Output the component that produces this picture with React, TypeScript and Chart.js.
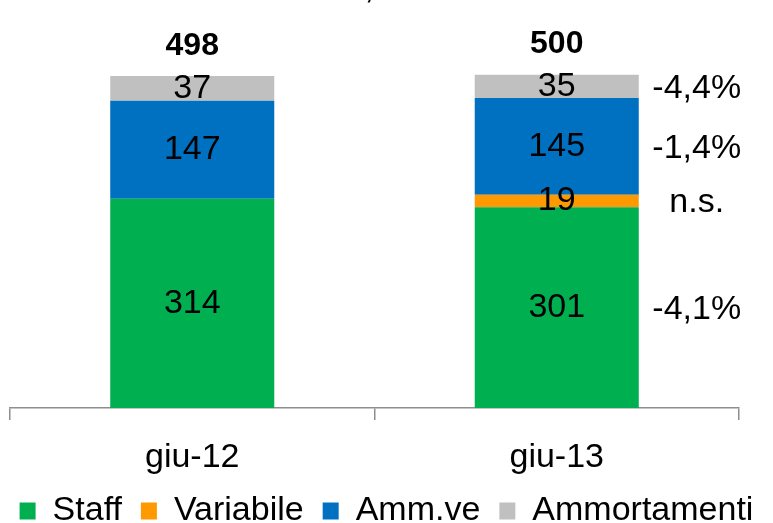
import React, { useEffect, useRef } from 'react';
import { Chart, registerables } from 'chart.js';

Chart.register(...registerables);

const categories = ['giu-12', 'giu-13'];
const staff = [314, 301];
const variabile = [0, 19];
const ammve = [147, 145];
const ammortamenti = [37, 35];
const totals = [498, 500];
const seriesNames = ['Staff', 'Variabile', 'Amm.ve', 'Ammortamenti'];
const seriesColors = ['#00B050', '#FF9900', '#0070C0', '#C0C0C0'];
const variations = ['-4,1%', 'n.s.', '-1,4%', '-4,4%'];
const totalVariation = '+0,4%';
const yMax = 600;

const FONT = "'Liberation Sans', Arial, sans-serif";
const FS = 34;

const labelsPlugin = {
  id: 'valueLabels',
  afterDatasetsDraw(chart: any) {
    const ctx = chart.ctx;
    ctx.save();
    ctx.fillStyle = '#000';
    ctx.textAlign = 'center';
    ctx.textBaseline = 'middle';
    ctx.font = `${FS}px ${FONT}`;
    chart.data.datasets.forEach((ds: any, di: number) => {
      const meta = chart.getDatasetMeta(di);
      meta.data.forEach((bar: any, i: number) => {
        const v = ds.data[i];
        if (!v) return;
        const { x, y, base } = bar.getProps(['x', 'y', 'base'], true);
        ctx.fillText(String(v), x, (y + base) / 2);
      });
    });
    const topMeta = chart.getDatasetMeta(chart.data.datasets.length - 1);
    ctx.font = `bold 32px ${FONT}`;
    topMeta.data.forEach((bar: any, i: number) => {
      const { x, y } = bar.getProps(['x', 'y'], true);
      ctx.fillText(String(totals[i]), x, y - 30);
    });
    ctx.font = `${FS}px ${FONT}`;
    const last = categories.length - 1;
    chart.data.datasets.forEach((ds: any, di: number) => {
      const bar = chart.getDatasetMeta(di).data[last];
      const { x, y, base, width } = bar.getProps(['x', 'y', 'base', 'width'], true);
      ctx.fillText(variations[di], x + width / 2 + 58, (y + base) / 2 + 2);
    });
    const xs = chart.scales.x;
    const midX = (xs.getPixelForValue(0) + xs.getPixelForValue(1)) / 2;
    ctx.textBaseline = 'alphabetic';
    ctx.fillText(totalVariation, midX, chart.chartArea.top - 10);
    ctx.restore();
  },
};

export default function App() {
  const ref = useRef<HTMLCanvasElement>(null);
  useEffect(() => {
    if (!ref.current) return;
    const values = [staff, variabile, ammve, ammortamenti];
    const chart = new Chart(ref.current, {
      type: 'bar',
      data: {
        labels: categories,
        datasets: values.map((d, i) => ({
          label: seriesNames[i],
          data: d,
          backgroundColor: seriesColors[i],
          borderWidth: 0,
          categoryPercentage: 1,
          barPercentage: 0.45,
        })),
      },
      options: {
        responsive: false,
        animation: false,
        devicePixelRatio: 1,
        layout: { padding: { left: 0, right: 0, top: 8, bottom: 0 } },
        scales: {
          x: {
            stacked: true,
            grid: {
              display: true,
              drawOnChartArea: false,
              drawTicks: true,
              tickLength: 12,
              offset: true,
              color: '#8E8E8E',
              lineWidth: 1.5,
            },
            border: { display: true, color: '#8E8E8E', width: 1.5 },
            ticks: { color: '#000', font: { family: FONT, size: FS }, padding: 17 },
            afterFit: (s: any) => { s.height = 67; },
          },
          y: {
            stacked: true,
            display: true,
            position: 'left',
            min: 0,
            max: yMax,
            ticks: { display: false },
            grid: { display: false },
            border: { display: false },
            afterFit: (s: any) => { s.width = 10; },
          },
          yRight: {
            display: true,
            position: 'right',
            min: 0,
            max: yMax,
            ticks: { display: false },
            grid: { display: false },
            border: { display: false },
            afterFit: (s: any) => { s.width = 34; },
          },
        },
        plugins: {
          legend: {
            position: 'bottom',
            labels: {
              boxWidth: 16,
              boxHeight: 17,
              padding: 19,
              color: '#000',
              font: { family: FONT, size: FS },
            },
          },
          tooltip: { enabled: false },
        },
      },
      plugins: [labelsPlugin],
    } as any);
    return () => chart.destroy();
  }, []);
  return (
    <div style={{ position: 'absolute', left: 0, top: 0, width: 773, height: 523, overflow: 'hidden', background: '#fff' }}>
      <canvas ref={ref} width={773} height={538} style={{ display: 'block' }} />
    </div>
  );
}
